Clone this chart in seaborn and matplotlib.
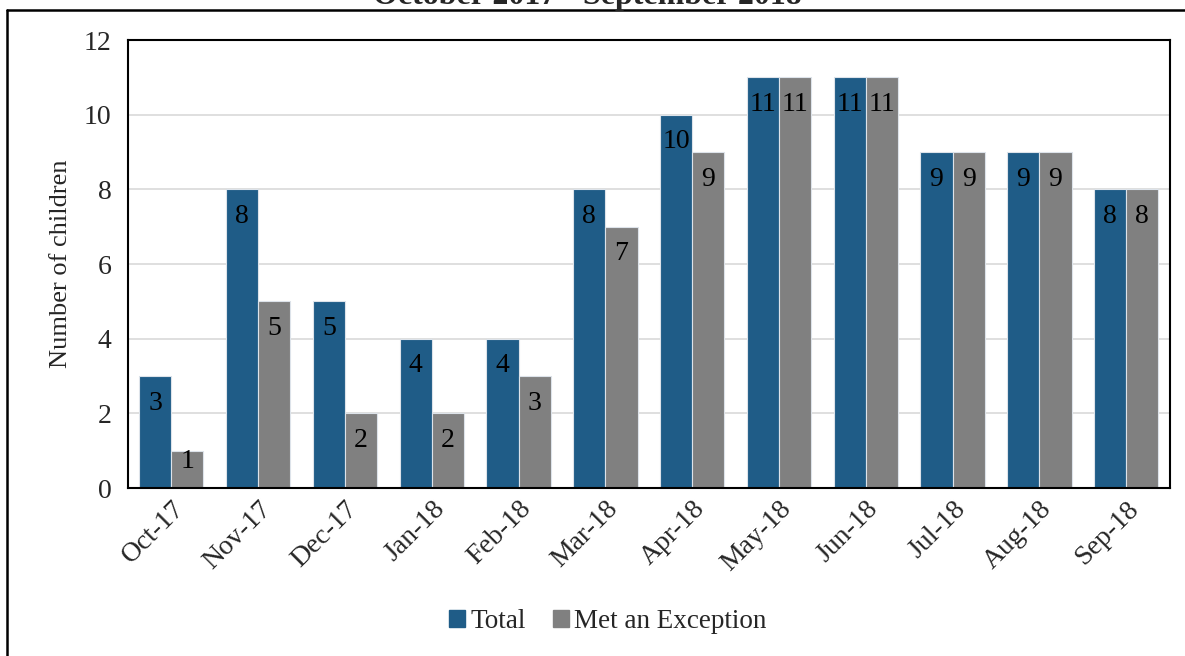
import matplotlib
matplotlib.use("Agg")
import matplotlib.pyplot as plt
import seaborn as sns
import pandas as pd
from matplotlib.lines import Line2D

months = ["Oct-17", "Nov-17", "Dec-17", "Jan-18", "Feb-18", "Mar-18",
          "Apr-18", "May-18", "Jun-18", "Jul-18", "Aug-18", "Sep-18"]
total = [3, 8, 5, 4, 4, 8, 10, 11, 11, 9, 9, 8]
met_exception = [1, 5, 2, 2, 3, 7, 9, 11, 11, 9, 9, 8]
series_names = ["Total", "Met an Exception"]
colors = ["#1F5C87", "#808080"]

df = pd.DataFrame({
    "Month": months * 2,
    "Series": [series_names[0]] * len(months) + [series_names[1]] * len(months),
    "Children": total + met_exception,
})

sns.set_theme(style="white")
plt.rcParams["font.family"] = ["Liberation Serif", "DejaVu Serif"]

fig = plt.figure(figsize=(11.85, 6.56), dpi=100)
ax = fig.add_axes([0.108, 0.256, 0.879, 0.683])

sns.barplot(data=df, x="Month", y="Children", hue="Series", order=months,
            hue_order=series_names, palette=colors, width=0.74,
            edgecolor="#DDE3EA", linewidth=0.8, saturation=1, ax=ax,
            legend=True)

# value labels inside the top end of each bar, kept inside short bars
for cont, vals in zip(ax.containers, [total, met_exception]):
    for rect, v in zip(cont, vals):
        ypos = max(v - 0.73, 0.7)
        ax.text(rect.get_x() + rect.get_width() / 2, ypos, str(v),
                ha="center", va="center", fontsize=20, color="black")

ax.set_ylim(0, 12)
ax.set_yticks(range(0, 13, 2))
ax.set_xlim(-0.5, len(months) - 0.5)
ax.yaxis.grid(True, color="#D9D9D9", linewidth=1.2)
ax.set_axisbelow(True)
ax.set_xlabel("")
ax.set_ylabel("Number of children", fontsize=19, labelpad=8)
ax.tick_params(axis="y", labelsize=20, length=0, pad=12)
ax.tick_params(axis="x", labelsize=20, length=0, pad=6)
for lbl in ax.get_xticklabels():
    lbl.set_rotation(45)
    lbl.set_ha("right")
    lbl.set_rotation_mode("anchor")
for sp in ax.spines.values():
    sp.set_visible(True)
    sp.set_color("black")
    sp.set_linewidth(1.5)

ax.legend_.remove()
handles = [plt.Rectangle((0, 0), 1, 1, color=c) for c in colors]
fig.legend(handles, series_names, loc="center", bbox_to_anchor=(0.513, 0.052),
           ncol=2, frameon=False, fontsize=19.5, handlelength=0.58,
           handleheight=0.58, handletextpad=0.2, columnspacing=1.0)

fig.text(0.496, 0.994, "October 2017 - September 2018", ha="center",
         va="baseline", fontsize=23, fontweight="bold")

# outer frame
fig.add_artist(Line2D([0.006, 1.0], [0.984, 0.984], transform=fig.transFigure,
                      color="black", linewidth=1.8))
fig.add_artist(Line2D([0.006, 0.006], [0.0, 0.984], transform=fig.transFigure,
                      color="black", linewidth=1.8))

fig.savefig("out.png", dpi=100, facecolor="white")
